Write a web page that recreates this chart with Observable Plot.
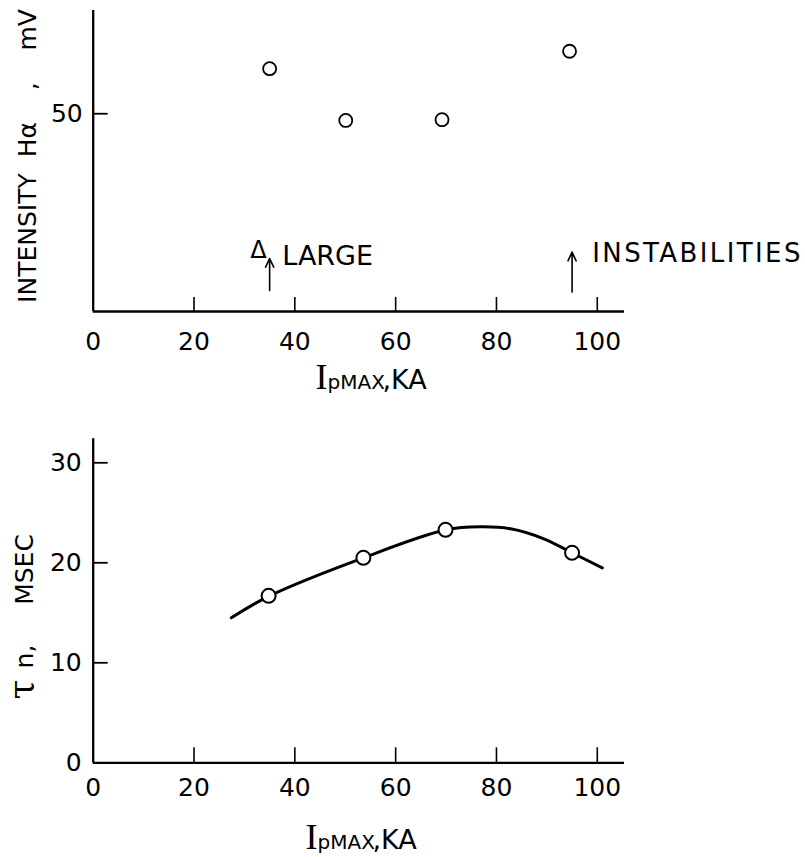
<!DOCTYPE html>
<html>
<head>
<meta charset="utf-8">
<script src="https://cdn.jsdelivr.net/npm/d3@7"></script>
<script src="https://cdn.jsdelivr.net/npm/@observablehq/plot@0.6"></script>
<style>
  body { margin: 0; background: white; }
  #chart { width: 805px; height: 857px; position: relative; }
  #chart svg { display: block; }
</style>
</head>
<body>
<div id="chart"></div>
<script>
// ---- data ----
const xTicks = [0, 20, 40, 60, 80, 100];
const xInnerTicks = [20, 40, 60, 80, 100];

// top panel: Hα intensity (mV) vs Ip max (kA)
const intensityX = [35.0, 50.1, 69.2, 94.5];
const intensityY = [61.4, 48.3, 48.5, 65.8];
const intensityTicks = [50];

// instability annotations
const arrowX = [35, 95];
const arrowY1 = [5.3, 4.9];
const arrowY2 = [13.4, 15.0];

// bottom panel: tau_n (msec) vs Ip max (kA)
const tauX = [34.8, 53.6, 69.9, 95.0];
const tauY = [16.7, 20.5, 23.3, 21.0];
const tauTicks = [0, 10, 20, 30];
const curveX = [27.4, 35.0, 53.6, 70.0, 77.0, 82.8, 89.4, 95.0, 101.0];
const curveY = [14.5, 16.7, 20.5, 23.3, 23.6, 23.4, 22.4, 21.0, 19.5];

const FONT = "DejaVu Sans";
const W = 805;
const ML = 92.7, MR = 181;
const NB = "\u00a0";

const intensity = intensityX.map((x, i) => ({x, y: intensityY[i]}));
const tau = tauX.map((x, i) => ({x, y: tauY[i]}));
const curve = curveX.map((x, i) => ({x, y: curveY[i]}));
const arrows = arrowX.map((x, i) => ({x, y1: arrowY1[i], y2: arrowY2[i]}));

function xTitle(dx, dy) {
  return [
    Plot.text(["I"], {frameAnchor: "bottom-left", text: d => d, dx: dx, dy: dy, textAnchor: "start", lineAnchor: "bottom", fontSize: 36, fontFamily: "Liberation Serif"}),
    Plot.text(["pMAX"], {frameAnchor: "bottom-left", text: d => d, dx: dx + 12, dy: dy, textAnchor: "start", lineAnchor: "bottom", fontSize: 20}),
    Plot.text([",KA"], {frameAnchor: "bottom-left", text: d => d, dx: dx + 67, dy: dy, textAnchor: "start", lineAnchor: "bottom", fontSize: 27})
  ];
}

// ---- top panel ----
const H1 = 400, MT1 = 10, MB1 = 89;
const topPlot = Plot.plot({
  width: W, height: H1,
  marginLeft: ML, marginRight: MR, marginTop: MT1, marginBottom: MB1,
  style: {fontFamily: FONT, background: "white", color: "black", overflow: "visible"},
  x: {domain: [0, 105.4]},
  y: {domain: [0, 76.1]},
  marks: [
    Plot.ruleX([0], {strokeWidth: 2.3}),
    Plot.ruleY([0], {strokeWidth: 2.3}),
    Plot.tickX(xInnerTicks, {x: d => d, insetTop: (H1 - MT1 - MB1) - 14, strokeWidth: 1.6}),
    Plot.tickY(intensityTicks, {y: d => d, insetRight: (W - ML - MR) - 15, strokeWidth: 1.8}),
    Plot.axisX({ticks: xTicks, tickSize: 0, tickPadding: 21, fontSize: 25, label: null}),
    Plot.axisY({ticks: intensityTicks, tickSize: 0, tickPadding: 10.5, fontSize: 25, label: null}),
    Plot.text(["INTENSITY" + NB.repeat(2) + "H\u03b1" + NB.repeat(4) + "," + NB.repeat(4) + "mV"], {frameAnchor: "left", text: d => d, rotate: -90, textAnchor: "middle", lineAnchor: "bottom", dx: -56.7, dy: -5, fontSize: 25}),
    ...xTitle(222.3, 77),
    Plot.arrow(arrows, {x1: "x", x2: "x", y1: "y1", y2: "y2", strokeWidth: 1.6, headLength: 9, headAngle: 50}),
    Plot.text(["\u0394"], {x: 32.8, y: 15.4, text: d => d, fontSize: 24}),
    Plot.text(["LARGE"], {x: 37.5, y: 13.9, text: d => d, textAnchor: "start", fontSize: 27}),
    Plot.text(["INSTABILITIES"], {x: 99.0, y: 14.7, text: d => d, textAnchor: "start", fontSize: 26}),
    Plot.dot(intensity, {x: "x", y: "y", r: 6.5, stroke: "black", fill: "white", strokeWidth: 1.8})
  ]
});

// ---- bottom panel ----
const H2 = 457, MT2 = 38.3, MB2 = 94.7;
const bottomPlot = Plot.plot({
  width: W, height: H2,
  marginLeft: ML, marginRight: MR, marginTop: MT2, marginBottom: MB2,
  style: {fontFamily: FONT, background: "white", color: "black", overflow: "visible"},
  x: {domain: [0, 105.4]},
  y: {domain: [0, 32.4]},
  marks: [
    Plot.ruleX([0], {strokeWidth: 2.3}),
    Plot.ruleY([0], {strokeWidth: 2.3}),
    Plot.tickX(xInnerTicks, {x: d => d, insetTop: (H2 - MT2 - MB2) - 15, strokeWidth: 1.6}),
    Plot.tickY(tauTicks.filter(d => d > 0), {y: d => d, insetRight: (W - ML - MR) - 15, strokeWidth: 1.8}),
    Plot.axisX({ticks: xTicks, tickSize: 0, tickPadding: 15.4, fontSize: 25, label: null}),
    Plot.axisY({ticks: tauTicks, tickSize: 0, tickPadding: 11.5, fontSize: 25, label: null}),
    Plot.text(["MSEC"], {frameAnchor: "left", text: d => d, rotate: -90, textAnchor: "middle", lineAnchor: "bottom", dx: -59.7, dy: -31.3, fontSize: 25}),
    Plot.text(["n,"], {frameAnchor: "left", text: d => d, rotate: -90, textAnchor: "middle", lineAnchor: "bottom", dx: -59.7, dy: 55.7, fontSize: 25}),
    Plot.text(["\u03c4"], {frameAnchor: "left", text: d => d, rotate: -90, textAnchor: "middle", lineAnchor: "bottom", dx: -59.7, dy: 88.7, fontSize: 36, fontFamily: "DejaVu Serif"}),
    ...xTitle(212.3, 85.7),
    Plot.line(curve, {x: "x", y: "y", curve: "catmull-rom", strokeWidth: 3}),
    Plot.dot(tau, {x: "x", y: "y", r: 7, stroke: "black", fill: "white", strokeWidth: 2})
  ]
});

const chart = document.getElementById("chart");
chart.appendChild(topPlot);
chart.appendChild(bottomPlot);

d3.select(topPlot).selectAll("text")
  .filter(function() { return this.textContent === "INSTABILITIES"; })
  .attr("letter-spacing", 2.4);
</script>
</body>
</html>
